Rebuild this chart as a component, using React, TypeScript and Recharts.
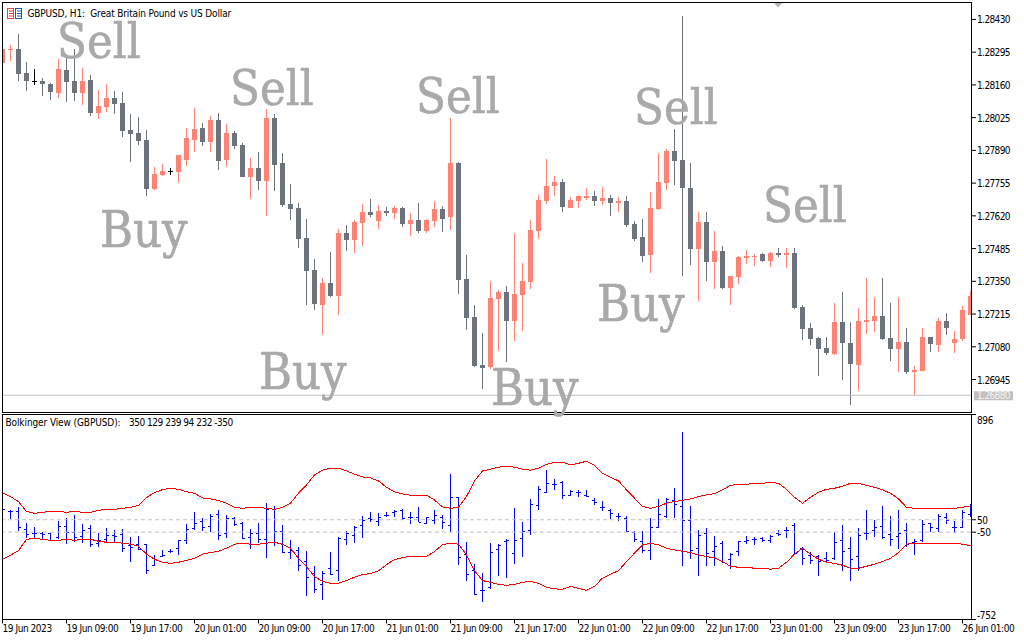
import React from 'react';
import { ComposedChart, Bar, Line, XAxis, YAxis, ReferenceLine } from 'recharts';

// GBPUSD H1 prices, in points (1e-5)
const opens = [
  128250,128304,128308,128209,128176,128176,128163,128126,128221,128176,
  128126,128180,128044,128069,128106,128085,127974,127961,127932,127730,
  127788,127803,127800,127850,127932,127982,127924,128015,127850,127961,
  127912,127780,127817,127763,128023,127838,127668,127652,127528,127396,
  127252,127343,127289,127549,127520,127590,127635,127598,127640,127631,
  127652,127586,127602,127557,127598,127648,127615,127838,127359,127202,
  127004,126996,127277,127305,127186,127293,127347,127557,127681,127743,
  127759,127652,127681,127693,127701,127681,127693,127673,127681,127586,
  127532,127458,127648,127755,127887,127850,127735,127483,127594,127429,
  127475,127322,127367,127446,127450,127462,127433,127466,127458,127466,
  127244,127157,127116,127074,127050,127182,127095,127004,127182,127186,
  127206,127116,127070,127099,126975,126980,127120,127087,127186,127095,
  127112,127211,
];
const highs = [
  128308,128324,128370,128254,128225,128188,128168,128267,128279,128308,
  128229,128201,128139,128163,128135,128130,128040,128027,127974,127821,
  127833,127817,127871,127982,128064,128003,128031,128044,127998,127970,
  127920,127858,127883,128060,128040,127879,127751,127673,127607,127442,
  127363,127470,127565,127582,127602,127668,127689,127664,127656,127660,
  127656,127631,127673,127607,127681,127660,128023,127842,127458,127252,
  127136,127351,127314,127330,127549,127425,127602,127706,127854,127784,
  127772,127697,127706,127735,127722,127739,127706,127697,127701,127598,
  127607,127718,127879,127895,127978,128444,127838,127635,127635,127557,
  127495,127372,127454,127479,127462,127466,127470,127487,127487,127487,
  127252,127178,127120,127120,127260,127305,127182,127240,127363,127285,
  127363,127260,127285,127157,127000,127157,127120,127198,127219,127145,
  127248,127310,
];
const lows = [
  128250,128258,128176,128135,128159,128114,128097,128106,128089,128093,
  128077,128031,128019,128048,128040,127945,127842,127912,127701,127726,
  127784,127788,127755,127825,127883,127908,127883,127809,127821,127895,
  127780,127689,127726,127619,127722,127656,127602,127487,127252,127231,
  127128,127285,127211,127475,127466,127495,127615,127565,127619,127607,
  127574,127536,127549,127549,127574,127553,127561,127297,127149,126996,
  126905,126988,127062,127017,127103,127145,127318,127524,127668,127701,
  127635,127652,127652,127685,127660,127664,127619,127635,127574,127516,
  127429,127384,127644,127726,127747,127372,127417,127268,127351,127318,
  127318,127252,127338,127421,127413,127429,127409,127450,127404,127235,
  127107,127087,126959,127046,127046,126942,126839,126897,127132,127140,
  127107,127021,126975,126967,126881,126980,127058,127058,127128,127054,
  127103,127211,
];
const closes = [
  128308,128308,128205,128176,128176,128163,128130,128225,128172,128126,
  128176,128044,128073,128106,128081,127970,127957,127928,127730,127792,
  127805,127803,127871,127941,127978,127924,128015,127846,127961,127908,
  127780,127817,127763,128023,127829,127664,127648,127524,127392,127256,
  127343,127289,127549,127520,127594,127635,127623,127640,127631,127652,
  127586,127602,127557,127602,127648,127607,127838,127355,127198,127000,
  126992,127281,127305,127186,127297,127351,127561,127685,127743,127759,
  127656,127685,127701,127701,127681,127693,127673,127681,127582,127524,
  127454,127652,127759,127887,127846,127735,127483,127594,127429,127475,
  127322,127372,127450,127454,127454,127433,127466,127458,127466,127240,
  127153,127112,127070,127054,127182,127095,127008,127186,127190,127206,
  127112,127070,127099,126975,126984,127120,127091,127186,127157,127112,
  127231,127289,
];

// Bolkinger View pane
const indHighs = [
  140,129,153,25,-8,-48,-59,41,65,89,
  16,8,-56,-16,-32,-24,-88,-80,-144,-235,
  -195,-185,-115,14,113,62,94,129,86,70,
  33,-24,25,185,161,8,-112,-169,-201,-321,
  -364,-209,-88,-43,-2,81,113,105,113,129,
  137,113,153,73,129,89,418,231,-128,-305,
  -378,-136,-147,-104,145,33,217,322,451,376,
  362,290,290,290,225,201,137,102,81,-43,
  -43,62,215,223,303,756,161,-32,-16,-80,
  -120,-219,-120,-83,-91,-88,-75,-35,-10,25,
  -171,-209,-235,-211,-48,8,-88,-16,129,49,
  161,81,129,27,-107,49,25,94,102,41,
  129,177,
];
const indLows = [
  125,57,-40,-99,-99,-112,-126,-107,-144,-128,
  -139,-169,-169,-136,-131,-209,-289,-193,-383,-327,
  -249,-219,-233,-144,-32,-40,-48,-112,-96,-2,
  -107,-185,-136,-257,-160,-217,-265,-364,-562,-538,
  -595,-394,-442,-152,-136,-96,33,0,70,73,
  49,16,30,16,16,-24,-48,-313,-442,-554,
  -611,-504,-402,-418,-305,-249,-72,129,266,290,
  217,239,234,234,169,121,57,41,-48,-128,
  -219,-273,-18,62,62,-321,-265,-402,-321,-321,
  -297,-345,-241,-144,-152,-131,-136,-80,-99,-227,
  -313,-305,-402,-289,-273,-361,-442,-361,-112,-88,
  -101,-160,-187,-169,-233,-128,-48,-48,16,-59,
  -16,70,
];
const indOpens = [
  134,118,118,-26,-59,-59,-59,-91,-2,-51,
  -83,-18,-139,-107,-75,-67,-155,-147,-147,-316,
  -241,-203,-179,-115,-18,38,-2,94,-59,62,
  22,-91,-59,-107,140,-43,-211,-193,-284,-380,
  -469,-340,-353,-107,-75,6,62,38,86,110,
  129,70,70,25,46,70,6,231,-227,-356,
  -514,-487,-187,-123,-219,-99,-35,167,274,338,
  354,247,274,247,209,153,129,83,62,-48,
  -123,-195,-10,78,207,158,46,-179,-59,-203,
  -139,-268,-203,-123,-107,-99,-115,-59,-35,6,
  -179,-235,-244,-260,-260,-115,-179,-244,-59,-35,
  -2,-67,-83,-35,-131,-115,22,-16,70,-8,
  -8,94,
];
const indCloses = [
  134,118,-10,-61,-59,-67,-115,-2,-51,-91,
  -35,-147,-115,-75,-83,-179,-169,-182,-351,-268,
  -230,-203,-115,-26,22,-10,78,-75,62,14,
  -99,-59,-107,140,-43,-211,-193,-316,-412,-509,
  -380,-388,-99,-59,-10,46,54,70,86,118,
  62,70,35,70,86,30,231,-252,-388,-549,
  -514,-211,-155,-112,-115,-43,175,295,346,338,
  247,282,274,242,191,153,102,83,-37,-107,
  -195,-10,94,215,175,46,-195,-75,-219,-160,
  -292,-227,-123,-115,-107,-115,-83,-67,-35,-219,
  -260,-276,-284,-276,-131,-203,-268,-75,-59,-10,
  -91,-104,-59,-147,-123,14,-10,78,46,-8,
  113,81,
];
const upperBand = [
  268,236,196,116,102,110,118,118,110,116,
  110,110,126,134,134,142,150,164,228,268,
  292,303,295,276,263,225,217,204,183,150,
  142,150,150,142,134,150,183,263,330,410,
  448,464,464,443,416,394,386,362,311,274,
  258,247,247,247,209,153,142,150,236,362,
  443,456,472,480,472,456,448,464,496,510,
  512,491,504,520,488,424,392,362,290,223,
  156,142,156,183,196,207,217,236,250,260,
  290,327,335,335,343,343,351,343,295,231,
  183,231,271,295,303,319,343,343,327,311,
  290,263,217,150,142,142,142,142,142,142,
  150,161,
];
const lowerBand = [
  -268,-235,-198,-107,-99,-107,-115,-115,-107,-115,
  -107,-107,-123,-131,-131,-139,-147,-163,-227,-268,
  -292,-300,-292,-276,-260,-227,-214,-203,-179,-147,
  -139,-147,-147,-139,-131,-147,-179,-260,-327,-407,
  -445,-461,-461,-439,-412,-391,-383,-361,-311,-270,
  -254,-244,-244,-244,-206,-150,-139,-147,-233,-359,
  -439,-453,-469,-477,-469,-453,-445,-461,-493,-506,
  -509,-487,-501,-517,-485,-420,-388,-359,-286,-219,
  -152,-139,-152,-179,-193,-203,-214,-233,-246,-257,
  -286,-324,-332,-332,-340,-340,-348,-340,-292,-227,
  -179,-227,-268,-292,-300,-316,-340,-340,-324,-308,
  -286,-260,-214,-147,-139,-139,-139,-139,-139,-139,
  -147,-158,
];

const timeLabels = [
  '19 Jun 2023', '19 Jun 09:00', '19 Jun 17:00', '20 Jun 01:00', '20 Jun 09:00', '20 Jun 17:00',
  '21 Jun 01:00', '21 Jun 09:00', '21 Jun 17:00', '22 Jun 01:00', '22 Jun 09:00', '22 Jun 17:00',
  '23 Jun 01:00', '23 Jun 09:00', '23 Jun 17:00', '26 Jun 01:00',
];
const priceTicks = [128430, 128295, 128160, 128025, 127890, 127755, 127620, 127485, 127350, 127215, 127080, 126945, 126880];
const lastPrice = 126880;
const indTicks = [896, 50, -50, -752];

const signals = [
  { text: 'Sell', x: 57, y: 58 },
  { text: 'Sell', x: 230, y: 105 },
  { text: 'Sell', x: 416, y: 113 },
  { text: 'Sell', x: 634, y: 124 },
  { text: 'Sell', x: 763, y: 222 },
  { text: 'Buy', x: 100, y: 247 },
  { text: 'Buy', x: 259, y: 389 },
  { text: 'Buy', x: 491, y: 405 },
  { text: 'Buy', x: 597, y: 321 },
];

const priceData = opens.map((open, i) => ({ time: i, open, high: highs[i], low: lows[i], close: closes[i] }));
const indData = indOpens.map((open, i) => ({
  time: i,
  open,
  high: indHighs[i],
  low: indLows[i],
  close: indCloses[i],
  upper: upperBand[i],
  lower: lowerBand[i],
}));

const UI_FONT = '"DejaVu Sans Condensed", "Liberation Sans", sans-serif';
const LEFT = 3;
const RIGHT = 971;
const UP = '#ff8274';
const DOWN = '#6b737c';

const Candle = (props: any) => {
  const { x, y, width, height, payload } = props;
  const cx = Math.round(x + width / 2 - 0.5) + 0.5;
  const perPoint = height / Math.max(payload.high - payload.low, 1);
  const yOf = (v: number) => Math.round(y + (payload.high - v) * perPoint);
  const top = yOf(Math.max(payload.open, payload.close));
  const bottom = yOf(Math.min(payload.open, payload.close));
  const color = payload.close > payload.open ? UP : payload.close < payload.open ? DOWN : '#000';
  const x0 = Math.max(cx - 2.5, LEFT);
  const x1 = Math.min(cx + 2.5, RIGHT);
  return (
    <g>
      {cx > LEFT && <rect x={cx - 0.5} y={Math.round(y)} width={1} height={Math.max(Math.round(height), 1)} fill={color} />}
      <rect x={x0} y={top} width={x1 - x0} height={Math.max(bottom - top, 1)} fill={color} />
    </g>
  );
};

const OhlcBar = (props: any) => {
  const { x, y, width, height, payload } = props;
  const cx = Math.round(x + width / 2 - 0.5) + 0.5;
  const perPoint = height / Math.max(payload.high - payload.low, 1);
  const yOf = (v: number) => Math.round(y + (payload.high - v) * perPoint);
  const color = '#0000ff';
  return (
    <g>
      {cx > LEFT && <rect x={cx - 0.5} y={Math.round(y)} width={1} height={Math.max(Math.round(height), 1)} fill={color} />}
      {cx > LEFT && <rect x={cx - 2.5} y={yOf(payload.open)} width={2} height={1} fill={color} />}
      {cx + 2.5 < RIGHT && <rect x={Math.max(cx + 0.5, LEFT)} y={yOf(payload.close)} width={2} height={1} fill={color} />}
    </g>
  );
};

const PriceTick = (props: any) => {
  const { y, payload } = props;
  const label = (payload.value / 100000).toFixed(5);
  if (payload.value === lastPrice) {
    return (
      <g>
        <rect x={974} y={y - 4} width={39} height={9} fill="#c0c0c0" />
        <text x={977} y={y + 4} fontFamily={UI_FONT} fontSize={10} letterSpacing={-0.6} fill="#f4f4f4">{label}</text>
      </g>
    );
  }
  return (
    <g>
      <line x1={972} x2={976} y1={y} y2={y} stroke="#000" />
      <text x={977} y={y + 4} fontFamily={UI_FONT} fontSize={10} letterSpacing={-0.6} fill="#000">{label}</text>
    </g>
  );
};

const IndTick = (props: any) => {
  const { y, payload } = props;
  const shift = payload.value === 896 ? 5 : payload.value === -752 ? -5 : 0;
  return (
    <g>
      <line x1={972} x2={976} y1={y} y2={y} stroke="#000" />
      <text x={977} y={y + shift + 4} fontFamily={UI_FONT} fontSize={10} letterSpacing={-0.4} fill="#000">{payload.value}</text>
    </g>
  );
};

const TimeTick = (props: any) => {
  const { x, payload } = props;
  const cx = Math.round(x - 0.5) + 0.5;
  return (
    <g>
      <line x1={cx} x2={cx} y1={205.5} y2={209.5} stroke="#000" />
      <text x={cx} y={217.5} fontFamily={UI_FONT} fontSize={10} letterSpacing={-0.45} fill="#000">
        {timeLabels[payload.value / 8]}
      </text>
    </g>
  );
};

const xPadding = { left: -4.5, right: -3.5 };
const bandStyle = { shapeRendering: 'crispEdges' as const };

export default function App() {
  return (
    <div style={{ position: 'fixed', left: 0, top: 0, width: 1024, height: 640, background: '#fff', overflow: 'hidden' }}>
      <div style={{ position: 'absolute', left: 0, top: 0 }}>
        <ComposedChart width={1024} height={412} data={priceData} margin={{ top: 2, right: 0, bottom: 0, left: LEFT }}>
          <XAxis dataKey="time" hide padding={xPadding} />
          <YAxis
            orientation="right"
            width={53}
            domain={[126811, 128502]}
            ticks={priceTicks}
            interval={0}
            axisLine={false}
            tickLine={false}
            tick={<PriceTick />}
          />
          <ReferenceLine y={lastPrice} stroke="#c0c0c0" />
          <Bar dataKey={(d: any) => [d.low, d.high]} barSize={8} shape={<Candle />} isAnimationActive={false} />
        </ComposedChart>
      </div>
      <div style={{ position: 'absolute', left: 0, top: 414 }}>
        <ComposedChart width={1024} height={226} data={indData} margin={{ top: 0.5, right: 0, bottom: 0, left: LEFT }}>
          <XAxis
            dataKey="time"
            height={20.5}
            padding={xPadding}
            interval={7}
            axisLine={false}
            tickLine={false}
            tick={<TimeTick />}
          />
          <YAxis
            orientation="right"
            width={53}
            domain={[-752, 896]}
            ticks={indTicks}
            interval={0}
            axisLine={false}
            tickLine={false}
            tick={<IndTick />}
          />
          <ReferenceLine y={50} stroke="#c0c0c0" strokeDasharray="4 3" />
          <ReferenceLine y={-50} stroke="#c0c0c0" strokeDasharray="4 3" />
          <Bar dataKey={(d: any) => [d.low, d.high]} barSize={8} shape={<OhlcBar />} isAnimationActive={false} />
          <Line dataKey="upper" stroke="#ff0000" strokeWidth={1} dot={false} style={bandStyle} isAnimationActive={false} />
          <Line dataKey="lower" stroke="#ff0000" strokeWidth={1} dot={false} style={bandStyle} isAnimationActive={false} />
        </ComposedChart>
      </div>
      <svg width={1024} height={640} style={{ position: 'absolute', left: 0, top: 0, pointerEvents: 'none' }}>
        <rect x={2.5} y={2.5} width={969} height={410} fill="none" stroke="#000" />
        <rect x={2.5} y={414.5} width={969} height={205} fill="none" stroke="#000" />
        <polygon points="774,3 782,3 778,7.5" fill="#b4b4b4" />
        <rect x={7.5} y={8.5} width={6} height={10} fill="#fff" stroke="#f04030" />
        <rect x={15.5} y={8.5} width={6} height={10} fill="#fff" stroke="#1060b0" />
        {[11, 13.5, 16].map(ly => (
          <g key={ly}>
            <line x1={9} x2={13} y1={ly} y2={ly} stroke="#f04030" />
            <line x1={17} x2={21} y1={ly} y2={ly} stroke="#1060b0" />
          </g>
        ))}
        <text x={27.5} y={17} fontFamily={UI_FONT} fontSize={10} letterSpacing={-0.15} fill="#000" xmlSpace="preserve">
          {'GBPUSD, H1:  Great Britain Pound vs US Dollar'}
        </text>
        <text y={426} fontFamily={UI_FONT} fontSize={10} fill="#000" xmlSpace="preserve">
          <tspan x={5.5} letterSpacing={-0.1}>{'Bolkinger View (GBPUSD):'}</tspan>
          <tspan x={129} letterSpacing={-0.48}>{'350 129 239 94 232 -350'}</tspan>
        </text>
        {signals.map((s, i) => (
          <text
            key={i}
            x={s.x}
            y={s.y}
            fontFamily='"DejaVu Serif Condensed", "DejaVu Serif", serif'
            fontSize={s.text === 'Buy' ? 50 : 48.5}
            fill="#a9a9a9"
            stroke="#a9a9a9"
            strokeWidth={0.6}
          >
            {s.text}
          </text>
        ))}
      </svg>
    </div>
  );
}
